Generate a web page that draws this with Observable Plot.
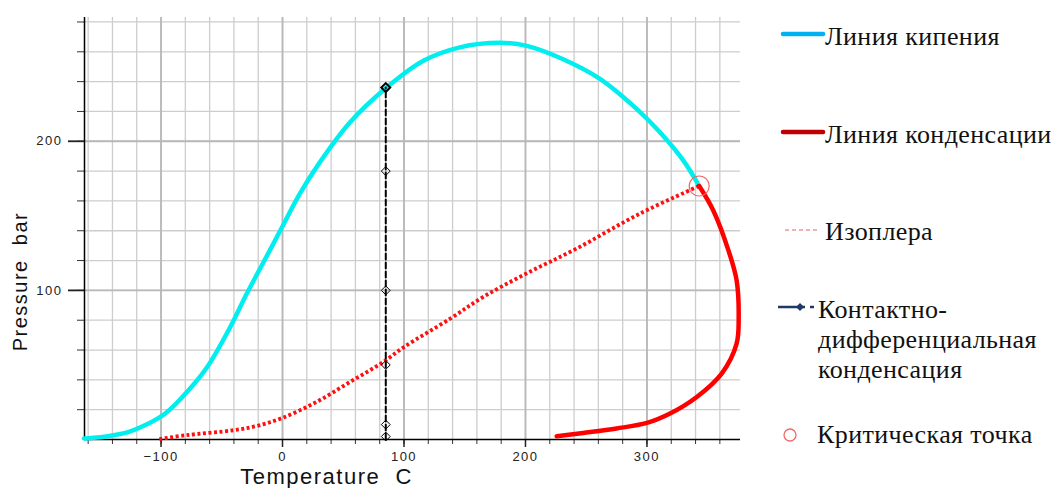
<!DOCTYPE html>
<html><head><meta charset="utf-8">
<script src="https://cdn.jsdelivr.net/npm/d3@7"></script>
<script src="https://cdn.jsdelivr.net/npm/@observablehq/plot@0.6"></script>
<style>
html,body{margin:0;padding:0;background:#fff;}
#wrap{position:relative;width:1055px;height:488px;overflow:hidden;background:#fff;}
#chart{position:absolute;left:0;top:0;}
#legend{position:absolute;left:760px;top:0;}
</style></head><body>
<div id="wrap"><div id="chart"></div><svg id="legend" width="295" height="488"></svg></div>
<script>
// Bubble point line (Линия кипения)
const bubbleT = [-163.4, -150, -139, -127, -112, -96, -75, -61, -43, -29.5, -10, 0, 14.4, 30, 55.6, 85.2, 116, 146, 179, 201, 231, 261, 291.5, 310.7, 330, 343];
const bubbleP = [0.7, 1.5, 2.9, 5, 10, 17.8, 35.2, 49.8, 75.4, 97.7, 127.5, 143, 165, 185, 212.7, 235.7, 254, 263, 266, 264, 255, 242, 221.7, 206, 187, 170];
// Dew point line, dotted part (inside)
const dewDotT = [-101.4, -79, -40.5, -21, 0, 28, 55.6, 83, 100, 138, 165, 200, 242, 294, 343];
const dewDotP = [0.3, 2.9, 6.2, 9.1, 14.5, 25.2, 38.6, 52, 62, 81, 95.5, 111, 128, 151.4, 170];
// Dew point line, solid part (Линия конденсации)
const dewT = [343, 354.6, 367, 373.8, 375.5, 373.8, 361.5, 341, 319, 300, 275, 247.6, 225.7];
const dewP = [170, 153.6, 127, 106.7, 82, 64.3, 44.2, 28.5, 17.4, 11.1, 7.4, 4.4, 2.2];
// Isopleth / CDC points
const isoT = 85;
const isoP = [236, 180, 100, 50, 10, 2];
// Critical point
const critT = [343];
const critP = [170];
// Axes
const xDomain = [-163, 377];
const yDomain = [0, 283];
const xMinor = d3.range(-160, 361, 20);
const xMajor = [-100, 0, 100, 200, 300];
const yMinor = d3.range(20, 281, 20);
const yMajor = [100, 200];
const xLabel = "Temperature  C";
const yLabel = "Pressure  bar";
// Legend
const legendLabels = [["Линия кипения"], ["Линия конденсации"], ["Изоплера"], ["Контактно-", "дифференциальная", "конденсация"], ["Критическая точка"]];

const bubble = bubbleT.map((t, i) => ({T: t, P: bubbleP[i]}));
const dewDot = dewDotT.map((t, i) => ({T: t, P: dewDotP[i]}));
const dew = dewT.map((t, i) => ({T: t, P: dewP[i]}));
const iso = isoP.map(p => ({T: isoT, P: p}));
const isoLine = [{T: isoT, P: 0}, {T: isoT, P: d3.max(isoP)}];
const crit = critT.map((t, i) => ({T: t, P: critP[i]}));

const chart = Plot.plot({
  width: 760, height: 488,
  marginLeft: 84, marginRight: 20, marginTop: 17, marginBottom: 49,
  x: {domain: xDomain},
  y: {domain: yDomain},
  style: {fontFamily: "'Liberation Sans', Arial, sans-serif", color: "#222", letterSpacing: "1.5px", background: "white", overflow: "visible"},
  marks: [
    Plot.gridX(xMinor, {stroke: "#cdcdcd", strokeOpacity: 1, strokeWidth: 1.3}),
    Plot.gridY(yMinor, {stroke: "#cdcdcd", strokeOpacity: 1, strokeWidth: 1.3}),
    Plot.gridX(xMajor, {stroke: "#b8b8b8", strokeOpacity: 1, strokeWidth: 1.8}),
    Plot.gridY(yMajor, {stroke: "#b8b8b8", strokeOpacity: 1, strokeWidth: 1.8}),
    Plot.axisX(xMinor, {tickSize: 5, text: null, label: null, stroke: "#333"}),
    Plot.axisX(xMajor, {tickSize: 8, tickPadding: 4, fontSize: 13, label: null, stroke: "#222", strokeWidth: 1.5}),
    Plot.axisY(yMinor, {tickSize: 7, text: null, label: null, stroke: "#333"}),
    Plot.axisY(yMajor, {tickSize: 16, tickPadding: 6, fontSize: 13, label: null, stroke: "#222", strokeWidth: 1.8}),
    Plot.ruleX([xDomain[0]], {stroke: "black", strokeWidth: 1.5}),
    Plot.ruleY([yDomain[0]], {stroke: "black", strokeWidth: 1.5}),
    Plot.text([xLabel], {text: d => d, frameAnchor: "bottom", textAnchor: "middle", dx: -86, dy: 37, fontSize: 22, fill: "#111", lineAnchor: "middle", ariaLabel: "xlabel"}),
    Plot.text([yLabel], {text: d => d, frameAnchor: "left", textAnchor: "middle", rotate: -90, dx: -64, dy: 53, fontSize: 20, fill: "#111", lineAnchor: "middle", ariaLabel: "ylabel"}),
    Plot.line(bubble, {x: "T", y: "P", stroke: "#00eeee", strokeWidth: 4.5, curve: "catmull-rom"}),
    Plot.line(dewDot, {x: "T", y: "P", stroke: "#ff1010", strokeWidth: 3.8, strokeDasharray: "3,2.5", strokeLinecap: "butt", curve: "catmull-rom"}),
    Plot.line(dew, {x: "T", y: "P", stroke: "#ff0000", strokeWidth: 4.5, curve: "catmull-rom"}),
    Plot.line(isoLine, {x: "T", y: "P", stroke: "black", strokeWidth: 2, strokeDasharray: "6,3"}),
    Plot.dot(iso, {x: "T", y: "P", symbol: "diamond2", r: 4, stroke: "black", strokeWidth: 1, fill: "none"}),
    Plot.dot(iso.slice(0, 1), {x: "T", y: "P", symbol: "diamond2", r: 4, stroke: "black", strokeWidth: 2, fill: "none"}),
    Plot.dot(crit, {x: "T", y: "P", r: 10, stroke: "#f06a6a", strokeWidth: 1.2, fill: "none"})
  ]
});
d3.select(chart).selectAll('g[aria-label="xlabel"] text').style("letter-spacing", "2.4px");
d3.select(chart).selectAll('g[aria-label="ylabel"] text').style("letter-spacing", "2.7px");
document.getElementById("chart").appendChild(chart);

// Legend
const lg = d3.select("#legend");
const ff = "'Liberation Serif', 'Times New Roman', serif";
const fs = 26;
function addText(lines, x, y0, lh) {
  const t = lg.append("text").attr("font-family", ff).attr("font-size", fs).attr("fill", "#111").style("letter-spacing", "0.4px");
  lines.forEach((s, i) => t.append("tspan").attr("x", x).attr("y", y0 + i * lh).text(s));
}
lg.append("line").attr("x1", 23).attr("x2", 63).attr("y1", 34).attr("y2", 34).attr("stroke", "#00B0F0").attr("stroke-width", 4.5).attr("stroke-linecap", "round");
addText(legendLabels[0], 65, 45, 30);
lg.append("line").attr("x1", 23).attr("x2", 63).attr("y1", 132).attr("y2", 132).attr("stroke", "#C00000").attr("stroke-width", 4.5).attr("stroke-linecap", "round");
addText(legendLabels[1], 65, 143, 30);
lg.append("line").attr("x1", 25).attr("x2", 60).attr("y1", 230).attr("y2", 230).attr("stroke", "#e06666").attr("stroke-width", 1.2).attr("stroke-dasharray", "4,3");
addText(legendLabels[2], 65, 240, 30);
lg.append("line").attr("x1", 18).attr("x2", 45).attr("y1", 307).attr("y2", 307).attr("stroke", "#1F3864").attr("stroke-width", 2.5);
lg.append("path").attr("d", "M40,303 L44,307 L40,311 L36,307 Z").attr("fill", "#1F3864");
lg.append("line").attr("x1", 50).attr("x2", 54).attr("y1", 307).attr("y2", 307).attr("stroke", "#1F3864").attr("stroke-width", 2.5);
addText(legendLabels[3], 58, 318, 30);
lg.append("circle").attr("cx", 30).attr("cy", 435).attr("r", 6).attr("fill", "none").attr("stroke", "#f06a6a").attr("stroke-width", 1.3);
addText(legendLabels[4], 57, 443, 30);
</script>
</body></html>
